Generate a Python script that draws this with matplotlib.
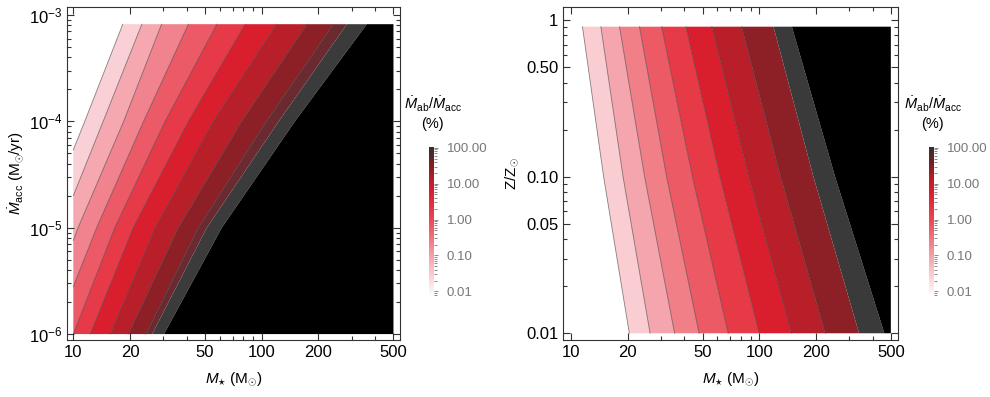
import numpy as np
import matplotlib.pyplot as plt
from matplotlib.colors import LinearSegmentedColormap, LogNorm
from matplotlib.cm import ScalarMappable
from matplotlib.ticker import NullFormatter, FixedLocator

plt.rcParams['font.family'] = ['Liberation Sans', 'DejaVu Sans']
plt.rcParams['mathtext.fontset'] = 'custom'
plt.rcParams['mathtext.rm'] = 'Liberation Sans'
plt.rcParams['mathtext.it'] = 'Liberation Sans:italic'
plt.rcParams['mathtext.bf'] = 'Liberation Sans:bold'

# ---- left panel: contour boundaries, M_star (Msun) along Mdot_acc (Msun/yr)
left_mdot_top = 8.2e-4
left_bound_mdot = [
    [5.4e-5, 1e-4, 8.2e-4],
    [2.0e-5, 1e-4, 8.2e-4],
    [7.6e-6, 1e-5, 1e-4, 8.2e-4],
    [2.8e-6, 1e-5, 1e-4, 8.2e-4],
    [1e-6, 1e-5, 1e-4, 8.2e-4],
    [1e-6, 1e-5, 1e-4, 8.2e-4],
    [1e-6, 1e-5, 1e-4, 8.2e-4],
    [1e-6, 1e-5, 1e-4, 8.2e-4],
    [1e-6, 1e-5, 1e-4, 8.2e-4],
    [1e-6, 1e-5, 1e-4, 8.2e-4],
    [1e-6, 1e-5, 1e-4, 8.2e-4],
]
left_bound_mass = [
    [10, 11.5, 18.3],
    [10, 14.4, 23.1],
    [10, 10.6, 18.5, 29.4],
    [10, 13.3, 23.6, 40.8],
    [10, 16.6, 30.7, 57.8],
    [12.3, 20.8, 40.8, 81.7],
    [15.7, 27.2, 55.3, 120],
    [19.6, 36.1, 78.3, 174],
    [24.3, 46.1, 106, 240],
    [26.2, 51.1, 123, 283],
    [30.3, 61.4, 150, 361],
]
left_colors = ['#f9d0d5', '#f5a8b0', '#f0838d', '#ec5a67', '#e63a48',
               '#d91f2e', '#b81f29', '#8d1f27', '#6a2a30', '#3b3b3b', '#000000']

# ---- right panel: contour boundaries, M_star (Msun) along Z/Zsun
right_z = [0.01, 0.1, 0.91]
right_bound_mass = [
    [20.4, 14.9, 11.5],
    [26.3, 18.9, 14.4],
    [35.5, 24.6, 18.1],
    [47.9, 32.2, 23.1],
    [68.4, 44.2, 30.3],
    [100, 61.9, 40.8],
    [148, 88.1, 56.0],
    [224, 130, 80.7],
    [339, 194, 119],
    [462, 253, 149],
]
right_colors = ['#f9cdd2', '#f4a5ad', '#f07f88', '#eb5a65', '#e63a47',
                '#d91f2e', '#b81f28', '#8d1f26', '#3a3a3a', '#000000']

m_max = 500
cbar_ticks = [0.01, 0.1, 1, 10, 100]
cbar_labels = ['0.01', '0.10', '1.00', '10.00', '100.00']
cmap = LinearSegmentedColormap.from_list('ab', [
    (0.0, '#ffffff'), (0.25, '#f5a9b1'), (0.5, '#ea4a58'), (0.7, '#d81e2e'),
    (0.8, '#b01e28'), (0.88, '#7a1f25'), (1.0, '#303030')])

fig = plt.figure(figsize=(9.9, 3.97), dpi=100)
ax1 = fig.add_axes([0.0677, 0.1436, 0.3364, 0.8388])
ax2 = fig.add_axes([0.569, 0.1436, 0.3384, 0.8388])


def draw_bands(ax, ys, xs, colors, y_lo, y_hi, nlines):
    n = len(xs)
    for i in range(n):
        if i < n - 1:
            px = list(xs[i + 1]) + list(xs[i])[::-1]
            py = list(ys[i + 1]) + list(ys[i])[::-1]
        else:
            px = list(xs[i]) + [m_max, m_max]
            py = list(ys[i]) + [y_hi, y_lo]
        ax.fill(px, py, color=colors[i], lw=0)
    for i in range(nlines):
        ax.plot(xs[i], ys[i], color='#3a3a3a', lw=0.6, alpha=0.6)


draw_bands(ax1, left_bound_mdot, left_bound_mass, left_colors, 1e-6, left_mdot_top, 9)
draw_bands(ax2, [right_z] * len(right_bound_mass), right_bound_mass, right_colors,
           right_z[0], right_z[-1], 8)

for ax in (ax1, ax2):
    ax.set_xscale('log')
    ax.set_yscale('log')
    ax.set_xticks([10, 20, 50, 100, 200, 500])
    ax.set_xticklabels(['10', '20', '50', '100', '200', '500'])
    ax.xaxis.set_minor_locator(FixedLocator([30, 40, 60, 70, 80, 90, 300, 400]))
    ax.xaxis.set_minor_formatter(NullFormatter())
    ax.tick_params(which='both', direction='in', top=True, right=True,
                   labelsize=12, width=0.8, color='#333333')
    ax.tick_params(which='major', length=5)
    ax.tick_params(which='minor', length=3)
    for s in ax.spines.values():
        s.set_linewidth(0.8)
        s.set_color('#333333')
    ax.set_xlabel(r'$M_{\star}$ (M$_{\odot}$)', fontsize=11, labelpad=8)

ax1.set_xlim(9.26, 542)
ax1.set_ylim(8.8e-7, 1.19e-3)
ax1.set_yticks([1e-6, 1e-5, 1e-4, 1e-3])
ax1.set_yticklabels([r'$10^{-6}$', r'$10^{-5}$', r'$10^{-4}$', r'$10^{-3}$'])
ax1.yaxis.set_minor_locator(FixedLocator(
    [k * 10.0 ** e for e in (-6, -5, -4) for k in range(2, 10)]))
ax1.yaxis.set_minor_formatter(NullFormatter())
ax1.set_ylabel(r'$\dot{M}_{\rm acc}$ (M$_{\odot}$/yr)', fontsize=11, labelpad=2)

ax2.set_xlim(9.1, 548)
ax2.set_ylim(0.00906, 1.216)
ax2.set_yticks([0.01, 0.05, 0.1, 0.5, 1])
ax2.set_yticklabels(['0.01', '0.05', '0.10', '0.50', '1'])
ax2.yaxis.set_minor_locator(FixedLocator(
    [0.02, 0.03, 0.04, 0.06, 0.07, 0.08, 0.09, 0.2, 0.3, 0.4, 0.6, 0.7, 0.8, 0.9]))
ax2.yaxis.set_minor_formatter(NullFormatter())
ax2.set_ylabel(r'Z/Z$_{\odot}$', fontsize=11, labelpad=4)

for xc in (0.4336, 0.9387):
    cax = fig.add_axes([xc, 0.2526, 0.0048, 0.3778])
    sm = ScalarMappable(norm=LogNorm(10 ** -2.15, 10 ** 2.03), cmap=cmap)
    cb = fig.colorbar(sm, cax=cax)
    cb.outline.set_visible(False)
    cb.set_ticks(cbar_ticks)
    cb.set_ticklabels(cbar_labels)
    cax.tick_params(which='both', direction='out', colors='#777777',
                    labelsize=9.5, width=0.6, pad=6)
    cax.tick_params(which='major', length=3)
    cax.tick_params(which='minor', length=2)
    fig.text(xc + 0.0035, 1 - 104 / 397, r'$\dot{M}_{\rm ab}/\dot{M}_{\rm acc}$',
             ha='center', va='center', fontsize=10.5)
    fig.text(xc + 0.0035, 1 - 124 / 397, '(%)', ha='center', va='center', fontsize=10.5)

fig.savefig('out.png', dpi=100)
